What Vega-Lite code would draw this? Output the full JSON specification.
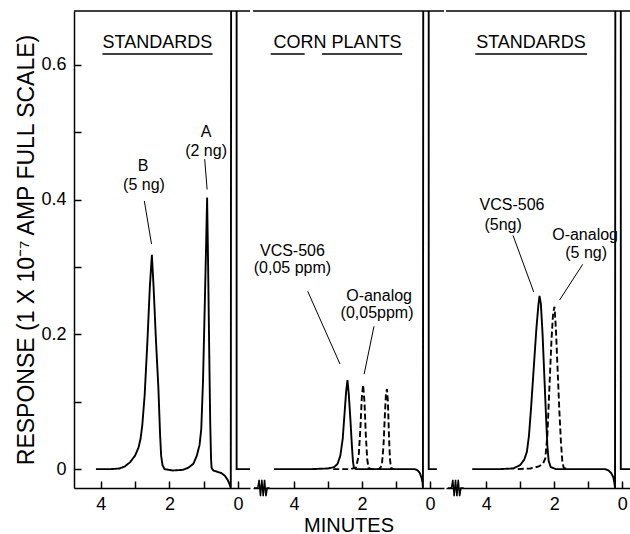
{
  "$schema": "https://vega.github.io/schema/vega-lite/v6.json",
  "padding": {"left": 15, "top": 10, "right": 0, "bottom": 0},
  "background": "white",
  "spacing": 0,
  "resolve": {"scale": {"x": "independent", "y": "independent"}},
  "datasets": {
    "traces": [
      {"panel": 1, "series": "solid", "minutes": 4.14, "response": 0},
      {"panel": 1, "series": "solid", "minutes": 3.7, "response": 0},
      {"panel": 1, "series": "solid", "minutes": 3.45, "response": 0.001},
      {"panel": 1, "series": "solid", "minutes": 3.3, "response": 0.004},
      {"panel": 1, "series": "solid", "minutes": 3.15, "response": 0.01},
      {"panel": 1, "series": "solid", "minutes": 3.0, "response": 0.02},
      {"panel": 1, "series": "solid", "minutes": 2.9, "response": 0.032},
      {"panel": 1, "series": "solid", "minutes": 2.84, "response": 0.045},
      {"panel": 1, "series": "solid", "minutes": 2.79, "response": 0.065},
      {"panel": 1, "series": "solid", "minutes": 2.72, "response": 0.11},
      {"panel": 1, "series": "solid", "minutes": 2.64, "response": 0.19},
      {"panel": 1, "series": "solid", "minutes": 2.57, "response": 0.27},
      {"panel": 1, "series": "solid", "minutes": 2.51, "response": 0.318},
      {"panel": 1, "series": "solid", "minutes": 2.46, "response": 0.27},
      {"panel": 1, "series": "solid", "minutes": 2.39, "response": 0.19},
      {"panel": 1, "series": "solid", "minutes": 2.32, "response": 0.12},
      {"panel": 1, "series": "solid", "minutes": 2.27, "response": 0.05},
      {"panel": 1, "series": "solid", "minutes": 2.24, "response": 0.02},
      {"panel": 1, "series": "solid", "minutes": 2.2, "response": 0.006},
      {"panel": 1, "series": "solid", "minutes": 2.14, "response": 0},
      {"panel": 1, "series": "solid", "minutes": 1.9, "response": -0.002},
      {"panel": 1, "series": "solid", "minutes": 1.6, "response": -0.001},
      {"panel": 1, "series": "solid", "minutes": 1.45, "response": 0.002},
      {"panel": 1, "series": "solid", "minutes": 1.3, "response": 0.008},
      {"panel": 1, "series": "solid", "minutes": 1.2, "response": 0.02},
      {"panel": 1, "series": "solid", "minutes": 1.12, "response": 0.036},
      {"panel": 1, "series": "solid", "minutes": 1.07, "response": 0.06},
      {"panel": 1, "series": "solid", "minutes": 1.02, "response": 0.13},
      {"panel": 1, "series": "solid", "minutes": 0.97, "response": 0.24},
      {"panel": 1, "series": "solid", "minutes": 0.93, "response": 0.33},
      {"panel": 1, "series": "solid", "minutes": 0.9, "response": 0.403},
      {"panel": 1, "series": "solid", "minutes": 0.87, "response": 0.3},
      {"panel": 1, "series": "solid", "minutes": 0.84, "response": 0.18},
      {"panel": 1, "series": "solid", "minutes": 0.81, "response": 0.07},
      {"panel": 1, "series": "solid", "minutes": 0.785, "response": 0.015},
      {"panel": 1, "series": "solid", "minutes": 0.77, "response": 0.002},
      {"panel": 1, "series": "solid", "minutes": 0.72, "response": -0.002},
      {"panel": 1, "series": "solid", "minutes": 0.6, "response": -0.004},
      {"panel": 1, "series": "solid", "minutes": 0.48, "response": -0.006},
      {"panel": 1, "series": "solid", "minutes": 0.38, "response": -0.01},
      {"panel": 1, "series": "solid", "minutes": 0.3, "response": -0.016},
      {"panel": 1, "series": "solid", "minutes": 0.25, "response": -0.022},
      {"panel": 1, "series": "solid", "minutes": 0.21, "response": -0.028},
      {"panel": 1, "series": "solid", "minutes": 0.2, "response": 0.75},
      {"panel": 1, "series": "solid", "minutes": 0.04, "response": 0.75},
      {"panel": 1, "series": "solid", "minutes": 0.04, "response": 0},
      {"panel": 1, "series": "solid", "minutes": 0.0, "response": 0},
      {"panel": 1, "series": "solid", "minutes": -0.5, "response": 0},

      {"panel": 2, "series": "solid", "minutes": 4.59, "response": 0},
      {"panel": 2, "series": "solid", "minutes": 3.5, "response": 0},
      {"panel": 2, "series": "solid", "minutes": 3.0, "response": 0.001},
      {"panel": 2, "series": "solid", "minutes": 2.82, "response": 0.003},
      {"panel": 2, "series": "solid", "minutes": 2.72, "response": 0.008},
      {"panel": 2, "series": "solid", "minutes": 2.64, "response": 0.02},
      {"panel": 2, "series": "solid", "minutes": 2.57, "response": 0.045},
      {"panel": 2, "series": "solid", "minutes": 2.52, "response": 0.08},
      {"panel": 2, "series": "solid", "minutes": 2.47, "response": 0.115},
      {"panel": 2, "series": "solid", "minutes": 2.43, "response": 0.132},
      {"panel": 2, "series": "solid", "minutes": 2.39, "response": 0.11},
      {"panel": 2, "series": "solid", "minutes": 2.34, "response": 0.07},
      {"panel": 2, "series": "solid", "minutes": 2.3, "response": 0.035},
      {"panel": 2, "series": "solid", "minutes": 2.27, "response": 0.012},
      {"panel": 2, "series": "solid", "minutes": 2.24, "response": 0.002},
      {"panel": 2, "series": "solid", "minutes": 2.18, "response": 0},
      {"panel": 2, "series": "solid", "minutes": 1.0, "response": 0},
      {"panel": 2, "series": "solid", "minutes": 0.45, "response": 0},
      {"panel": 2, "series": "solid", "minutes": 0.36, "response": -0.002},
      {"panel": 2, "series": "solid", "minutes": 0.3, "response": -0.006},
      {"panel": 2, "series": "solid", "minutes": 0.25, "response": -0.013},
      {"panel": 2, "series": "solid", "minutes": 0.22, "response": -0.02},
      {"panel": 2, "series": "solid", "minutes": 0.21, "response": -0.028},
      {"panel": 2, "series": "solid", "minutes": 0.2, "response": 0.75},
      {"panel": 2, "series": "solid", "minutes": 0.04, "response": 0.75},
      {"panel": 2, "series": "solid", "minutes": 0.04, "response": 0},
      {"panel": 2, "series": "solid", "minutes": -0.2, "response": 0},

      {"panel": 2, "series": "dashed", "minutes": 2.85, "response": 0},
      {"panel": 2, "series": "dashed", "minutes": 2.35, "response": 0},
      {"panel": 2, "series": "dashed", "minutes": 2.18, "response": 0.002},
      {"panel": 2, "series": "dashed", "minutes": 2.1, "response": 0.02},
      {"panel": 2, "series": "dashed", "minutes": 2.05, "response": 0.06},
      {"panel": 2, "series": "dashed", "minutes": 2.01, "response": 0.105},
      {"panel": 2, "series": "dashed", "minutes": 1.97, "response": 0.125},
      {"panel": 2, "series": "dashed", "minutes": 1.93, "response": 0.1},
      {"panel": 2, "series": "dashed", "minutes": 1.89, "response": 0.05},
      {"panel": 2, "series": "dashed", "minutes": 1.85, "response": 0.015},
      {"panel": 2, "series": "dashed", "minutes": 1.81, "response": 0.002},
      {"panel": 2, "series": "dashed", "minutes": 1.72, "response": 0},
      {"panel": 2, "series": "dashed", "minutes": 1.5, "response": 0},
      {"panel": 2, "series": "dashed", "minutes": 1.42, "response": 0.005},
      {"panel": 2, "series": "dashed", "minutes": 1.37, "response": 0.035},
      {"panel": 2, "series": "dashed", "minutes": 1.33, "response": 0.08},
      {"panel": 2, "series": "dashed", "minutes": 1.3, "response": 0.11},
      {"panel": 2, "series": "dashed", "minutes": 1.27, "response": 0.119},
      {"panel": 2, "series": "dashed", "minutes": 1.24, "response": 0.1},
      {"panel": 2, "series": "dashed", "minutes": 1.21, "response": 0.05},
      {"panel": 2, "series": "dashed", "minutes": 1.18, "response": 0.015},
      {"panel": 2, "series": "dashed", "minutes": 1.15, "response": 0.002},
      {"panel": 2, "series": "dashed", "minutes": 1.08, "response": 0},

      {"panel": 3, "series": "solid", "minutes": 4.41, "response": 0},
      {"panel": 3, "series": "solid", "minutes": 3.6, "response": 0},
      {"panel": 3, "series": "solid", "minutes": 3.2, "response": 0.001},
      {"panel": 3, "series": "solid", "minutes": 3.0, "response": 0.006},
      {"panel": 3, "series": "solid", "minutes": 2.88, "response": 0.014},
      {"panel": 3, "series": "solid", "minutes": 2.8, "response": 0.026},
      {"panel": 3, "series": "solid", "minutes": 2.74, "response": 0.05},
      {"panel": 3, "series": "solid", "minutes": 2.68, "response": 0.09},
      {"panel": 3, "series": "solid", "minutes": 2.6, "response": 0.15},
      {"panel": 3, "series": "solid", "minutes": 2.52, "response": 0.21},
      {"panel": 3, "series": "solid", "minutes": 2.46, "response": 0.245},
      {"panel": 3, "series": "solid", "minutes": 2.43, "response": 0.257},
      {"panel": 3, "series": "solid", "minutes": 2.39, "response": 0.245},
      {"panel": 3, "series": "solid", "minutes": 2.34, "response": 0.2},
      {"panel": 3, "series": "solid", "minutes": 2.29, "response": 0.14},
      {"panel": 3, "series": "solid", "minutes": 2.24, "response": 0.08},
      {"panel": 3, "series": "solid", "minutes": 2.2, "response": 0.035},
      {"panel": 3, "series": "solid", "minutes": 2.16, "response": 0.012},
      {"panel": 3, "series": "solid", "minutes": 2.1, "response": 0.003},
      {"panel": 3, "series": "solid", "minutes": 1.95, "response": 0},
      {"panel": 3, "series": "solid", "minutes": 0.5, "response": 0},
      {"panel": 3, "series": "solid", "minutes": 0.4, "response": -0.002},
      {"panel": 3, "series": "solid", "minutes": 0.32, "response": -0.006},
      {"panel": 3, "series": "solid", "minutes": 0.26, "response": -0.012},
      {"panel": 3, "series": "solid", "minutes": 0.23, "response": -0.02},
      {"panel": 3, "series": "solid", "minutes": 0.21, "response": -0.028},
      {"panel": 3, "series": "solid", "minutes": 0.2, "response": 0.75},
      {"panel": 3, "series": "solid", "minutes": 0.04, "response": 0.75},
      {"panel": 3, "series": "solid", "minutes": 0.04, "response": 0},
      {"panel": 3, "series": "solid", "minutes": -0.45, "response": 0},

      {"panel": 3, "series": "dashed", "minutes": 3.07, "response": 0},
      {"panel": 3, "series": "dashed", "minutes": 2.7, "response": 0.001},
      {"panel": 3, "series": "dashed", "minutes": 2.45, "response": 0.004},
      {"panel": 3, "series": "dashed", "minutes": 2.33, "response": 0.008},
      {"panel": 3, "series": "dashed", "minutes": 2.26, "response": 0.016},
      {"panel": 3, "series": "dashed", "minutes": 2.2, "response": 0.05},
      {"panel": 3, "series": "dashed", "minutes": 2.14, "response": 0.12},
      {"panel": 3, "series": "dashed", "minutes": 2.08, "response": 0.19},
      {"panel": 3, "series": "dashed", "minutes": 2.03, "response": 0.232},
      {"panel": 3, "series": "dashed", "minutes": 1.99, "response": 0.241},
      {"panel": 3, "series": "dashed", "minutes": 1.95, "response": 0.21},
      {"panel": 3, "series": "dashed", "minutes": 1.9, "response": 0.15},
      {"panel": 3, "series": "dashed", "minutes": 1.85, "response": 0.09},
      {"panel": 3, "series": "dashed", "minutes": 1.8, "response": 0.04},
      {"panel": 3, "series": "dashed", "minutes": 1.76, "response": 0.012},
      {"panel": 3, "series": "dashed", "minutes": 1.72, "response": 0.002},
      {"panel": 3, "series": "dashed", "minutes": 1.62, "response": 0}
    ],
    "breaks": [
      {"panel": 2, "minutes": 5.18, "response": -0.028},
      {"panel": 2, "minutes": 5.07, "response": -0.028},
      {"panel": 2, "minutes": 5.03, "response": -0.016},
      {"panel": 2, "minutes": 4.99, "response": -0.04},
      {"panel": 2, "minutes": 4.95, "response": -0.016},
      {"panel": 2, "minutes": 4.91, "response": -0.04},
      {"panel": 2, "minutes": 4.87, "response": -0.016},
      {"panel": 2, "minutes": 4.83, "response": -0.04},
      {"panel": 2, "minutes": 4.79, "response": -0.028},
      {"panel": 2, "minutes": 4.72, "response": -0.028},
      {"panel": 3, "minutes": 5.12, "response": -0.028},
      {"panel": 3, "minutes": 5.02, "response": -0.028},
      {"panel": 3, "minutes": 4.98, "response": -0.016},
      {"panel": 3, "minutes": 4.94, "response": -0.04},
      {"panel": 3, "minutes": 4.9, "response": -0.016},
      {"panel": 3, "minutes": 4.86, "response": -0.04},
      {"panel": 3, "minutes": 4.82, "response": -0.016},
      {"panel": 3, "minutes": 4.78, "response": -0.04},
      {"panel": 3, "minutes": 4.74, "response": -0.028},
      {"panel": 3, "minutes": 4.66, "response": -0.028}
    ],
    "notes": [
      {"panel": 1, "label": "A", "minutes": 0.93, "response": 0.5},
      {"panel": 1, "label": "(2 ng)", "minutes": 0.93, "response": 0.472},
      {"panel": 1, "label": "B", "minutes": 2.77, "response": 0.45},
      {"panel": 1, "label": "(5 ng)", "minutes": 2.74, "response": 0.422},
      {"panel": 2, "label": "VCS-506", "minutes": 4.05, "response": 0.324},
      {"panel": 2, "label": "(0,05 ppm)", "minutes": 4.05, "response": 0.299},
      {"panel": 2, "label": "O-analog", "minutes": 1.5, "response": 0.257},
      {"panel": 2, "label": "(0,05ppm)", "minutes": 1.56, "response": 0.232},
      {"panel": 3, "label": "VCS-506", "minutes": 3.24, "response": 0.392},
      {"panel": 3, "label": "(5ng)", "minutes": 3.5, "response": 0.362},
      {"panel": 3, "label": "O-analog", "minutes": 1.09, "response": 0.347},
      {"panel": 3, "label": "(5 ng)", "minutes": 1.06, "response": 0.321}
    ],
    "leaders": [
      {"panel": 1, "t1": 0.97, "r1": 0.46, "t2": 0.9, "r2": 0.415},
      {"panel": 1, "t1": 2.73, "r1": 0.398, "t2": 2.52, "r2": 0.334},
      {"panel": 2, "t1": 3.6, "r1": 0.264, "t2": 2.65, "r2": 0.156},
      {"panel": 2, "t1": 1.65, "r1": 0.212, "t2": 1.94, "r2": 0.141},
      {"panel": 3, "t1": 3.21, "r1": 0.347, "t2": 2.6, "r2": 0.263},
      {"panel": 3, "t1": 1.16, "r1": 0.304, "t2": 1.84, "r2": 0.251}
    ],
    "heads": [
      {"panel": 1, "label": "STANDARDS", "minutes": 2.35, "response": 0.632},
      {"panel": 2, "label": "CORN PLANTS", "minutes": 2.72, "response": 0.632},
      {"panel": 3, "label": "STANDARDS", "minutes": 2.68, "response": 0.632}
    ],
    "underlines": [
      {"panel": 1, "t1": 3.95, "t2": 0.74, "r": 0.616},
      {"panel": 2, "t1": 4.69, "t2": 3.69, "r": 0.616},
      {"panel": 2, "t1": 3.18, "t2": 0.82, "r": 0.616},
      {"panel": 3, "t1": 4.32, "t2": 1.03, "r": 0.616}
    ]
  },
  "hconcat": [
    {
      "width": 176,
      "height": 477,
      "layer": [
        {
          "data": {"name": "traces"},
          "transform": [{"filter": "datum.panel == 1"}],
          "mark": {"type": "line", "color": "black", "strokeWidth": 1.9, "clip": true},
          "encoding": {
            "x": {"field": "minutes", "type": "quantitative",
                  "scale": {"domain": [4.78, -0.35], "nice": false, "zero": false},
                  "axis": {"values": [4, 3, 2, 1, 0], "labelExpr": "datum.value % 2 == 0 ? datum.label : ''", "tickSize": -7, "labelPadding": 14, "title": null}},
            "y": {"field": "response", "type": "quantitative",
                  "scale": {"domain": [-0.028, 0.68], "nice": false, "zero": false},
                  "axis": {"values": [0, 0.1, 0.2, 0.3, 0.4, 0.5, 0.6], "labelExpr": "datum.value == 0 ? '0' : (round(datum.value * 10) % 2 == 0 ? format(datum.value, '.1f') : '')", "tickSize": -7, "labelPadding": 15, "title": "RESPONSE (1 X 10⁻⁷ AMP FULL SCALE)", "titleFontSize": 23, "titlePadding": 2}},
            "strokeDash": {"field": "series", "type": "nominal", "scale": {"domain": ["solid", "dashed"], "range": [[1, 0], [6, 3]]}, "legend": null},
            "order": {"value": null}
          }
        },
        {
          "data": {"values": [{}]},
          "mark": {"type": "rule", "color": "black", "strokeWidth": 1.5},
          "encoding": {"y": {"datum": 0.68}}
        },
        {
          "data": {"name": "leaders"},
          "transform": [{"filter": "datum.panel == 1"}],
          "mark": {"type": "rule", "color": "black", "strokeWidth": 1},
          "encoding": {"x": {"field": "t1", "type": "quantitative"}, "x2": {"field": "t2"}, "y": {"field": "r1", "type": "quantitative"}, "y2": {"field": "r2"}}
        },
        {
          "data": {"name": "notes"},
          "transform": [{"filter": "datum.panel == 1"}],
          "mark": {"type": "text", "fontSize": 16, "font": "Liberation Sans", "color": "black", "baseline": "middle"},
          "encoding": {"x": {"field": "minutes", "type": "quantitative"}, "y": {"field": "response", "type": "quantitative"}, "text": {"field": "label"}}
        },
        {
          "data": {"name": "heads"},
          "transform": [{"filter": "datum.panel == 1"}],
          "mark": {"type": "text", "fontSize": 18, "font": "Liberation Sans", "color": "black", "baseline": "middle"},
          "encoding": {"x": {"field": "minutes", "type": "quantitative"}, "y": {"field": "response", "type": "quantitative"}, "text": {"field": "label"}}
        },
        {
          "data": {"name": "underlines"},
          "transform": [{"filter": "datum.panel == 1"}],
          "mark": {"type": "rule", "color": "black", "strokeWidth": 1.5},
          "encoding": {"x": {"field": "t1", "type": "quantitative"}, "x2": {"field": "t2"}, "y": {"field": "r", "type": "quantitative"}}
        }
      ]
    },
    {
      "width": 191,
      "height": 477,
      "layer": [
        {
          "data": {"name": "traces"},
          "transform": [{"filter": "datum.panel == 2"}],
          "mark": {"type": "line", "color": "black", "strokeWidth": 1.9, "clip": true},
          "encoding": {
            "x": {"field": "minutes", "type": "quantitative",
                  "scale": {"domain": [5.21, -0.41], "nice": false, "zero": false},
                  "axis": {"values": [4, 3, 2, 1, 0], "labelExpr": "datum.value % 2 == 0 ? datum.label : ''", "tickSize": -7, "labelPadding": 14, "title": "MINUTES", "titleFontSize": 20, "titlePadding": 2}},
            "y": {"field": "response", "type": "quantitative",
                  "scale": {"domain": [-0.028, 0.68], "nice": false, "zero": false},
                  "axis": null},
            "strokeDash": {"field": "series", "type": "nominal", "scale": {"domain": ["solid", "dashed"], "range": [[1, 0], [6, 3]]}, "legend": null},
            "order": {"value": null}
          }
        },
        {
          "data": {"values": [{}]},
          "mark": {"type": "rule", "color": "black", "strokeWidth": 1.5},
          "encoding": {"y": {"datum": 0.68}}
        },
        {
          "data": {"name": "breaks"},
          "transform": [{"filter": "datum.panel == 2"}],
          "mark": {"type": "line", "color": "black", "strokeWidth": 1.5},
          "encoding": {"x": {"field": "minutes", "type": "quantitative"}, "y": {"field": "response", "type": "quantitative"}, "order": {"value": null}}
        },
        {
          "data": {"name": "leaders"},
          "transform": [{"filter": "datum.panel == 2"}],
          "mark": {"type": "rule", "color": "black", "strokeWidth": 1},
          "encoding": {"x": {"field": "t1", "type": "quantitative"}, "x2": {"field": "t2"}, "y": {"field": "r1", "type": "quantitative"}, "y2": {"field": "r2"}}
        },
        {
          "data": {"name": "notes"},
          "transform": [{"filter": "datum.panel == 2"}],
          "mark": {"type": "text", "fontSize": 16, "font": "Liberation Sans", "color": "black", "baseline": "middle"},
          "encoding": {"x": {"field": "minutes", "type": "quantitative"}, "y": {"field": "response", "type": "quantitative"}, "text": {"field": "label"}}
        },
        {
          "data": {"name": "heads"},
          "transform": [{"filter": "datum.panel == 2"}],
          "mark": {"type": "text", "fontSize": 18, "font": "Liberation Sans", "color": "black", "baseline": "middle"},
          "encoding": {"x": {"field": "minutes", "type": "quantitative"}, "y": {"field": "response", "type": "quantitative"}, "text": {"field": "label"}}
        },
        {
          "data": {"name": "underlines"},
          "transform": [{"filter": "datum.panel == 2"}],
          "mark": {"type": "rule", "color": "black", "strokeWidth": 1.5},
          "encoding": {"x": {"field": "t1", "type": "quantitative"}, "x2": {"field": "t2"}, "y": {"field": "r", "type": "quantitative"}}
        }
      ]
    },
    {
      "width": 185,
      "height": 477,
      "layer": [
        {
          "data": {"name": "traces"},
          "transform": [{"filter": "datum.panel == 3"}],
          "mark": {"type": "line", "color": "black", "strokeWidth": 1.9, "clip": true},
          "encoding": {
            "x": {"field": "minutes", "type": "quantitative",
                  "scale": {"domain": [5.18, -0.26], "nice": false, "zero": false},
                  "axis": {"values": [4, 3, 2, 1, 0], "labelExpr": "datum.value % 2 == 0 ? datum.label : ''", "tickSize": -7, "labelPadding": 14, "title": null}},
            "y": {"field": "response", "type": "quantitative",
                  "scale": {"domain": [-0.028, 0.68], "nice": false, "zero": false},
                  "axis": null},
            "strokeDash": {"field": "series", "type": "nominal", "scale": {"domain": ["solid", "dashed"], "range": [[1, 0], [6, 3]]}, "legend": null},
            "order": {"value": null}
          }
        },
        {
          "data": {"values": [{}]},
          "mark": {"type": "rule", "color": "black", "strokeWidth": 1.5},
          "encoding": {"y": {"datum": 0.68}}
        },
        {
          "data": {"name": "breaks"},
          "transform": [{"filter": "datum.panel == 3"}],
          "mark": {"type": "line", "color": "black", "strokeWidth": 1.5},
          "encoding": {"x": {"field": "minutes", "type": "quantitative"}, "y": {"field": "response", "type": "quantitative"}, "order": {"value": null}}
        },
        {
          "data": {"name": "leaders"},
          "transform": [{"filter": "datum.panel == 3"}],
          "mark": {"type": "rule", "color": "black", "strokeWidth": 1},
          "encoding": {"x": {"field": "t1", "type": "quantitative"}, "x2": {"field": "t2"}, "y": {"field": "r1", "type": "quantitative"}, "y2": {"field": "r2"}}
        },
        {
          "data": {"name": "notes"},
          "transform": [{"filter": "datum.panel == 3"}],
          "mark": {"type": "text", "fontSize": 16, "font": "Liberation Sans", "color": "black", "baseline": "middle"},
          "encoding": {"x": {"field": "minutes", "type": "quantitative"}, "y": {"field": "response", "type": "quantitative"}, "text": {"field": "label"}}
        },
        {
          "data": {"name": "heads"},
          "transform": [{"filter": "datum.panel == 3"}],
          "mark": {"type": "text", "fontSize": 18, "font": "Liberation Sans", "color": "black", "baseline": "middle"},
          "encoding": {"x": {"field": "minutes", "type": "quantitative"}, "y": {"field": "response", "type": "quantitative"}, "text": {"field": "label"}}
        },
        {
          "data": {"name": "underlines"},
          "transform": [{"filter": "datum.panel == 3"}],
          "mark": {"type": "rule", "color": "black", "strokeWidth": 1.5},
          "encoding": {"x": {"field": "t1", "type": "quantitative"}, "x2": {"field": "t2"}, "y": {"field": "r", "type": "quantitative"}}
        }
      ]
    }
  ],
  "config": {
    "font": "Liberation Sans",
    "view": {"stroke": null},
    "concat": {"spacing": 0},
    "axis": {
      "grid": false,
      "domainColor": "black",
      "domainWidth": 1.5,
      "tickColor": "black",
      "tickWidth": 1.5,
      "labelColor": "black",
      "titleColor": "black",
      "labelFont": "Liberation Sans",
      "titleFont": "Liberation Sans",
      "labelFontSize": 18,
      "titleFontWeight": "normal",
      "labelOverlap": false,
      "labelFlush": false
    }
  }
}
